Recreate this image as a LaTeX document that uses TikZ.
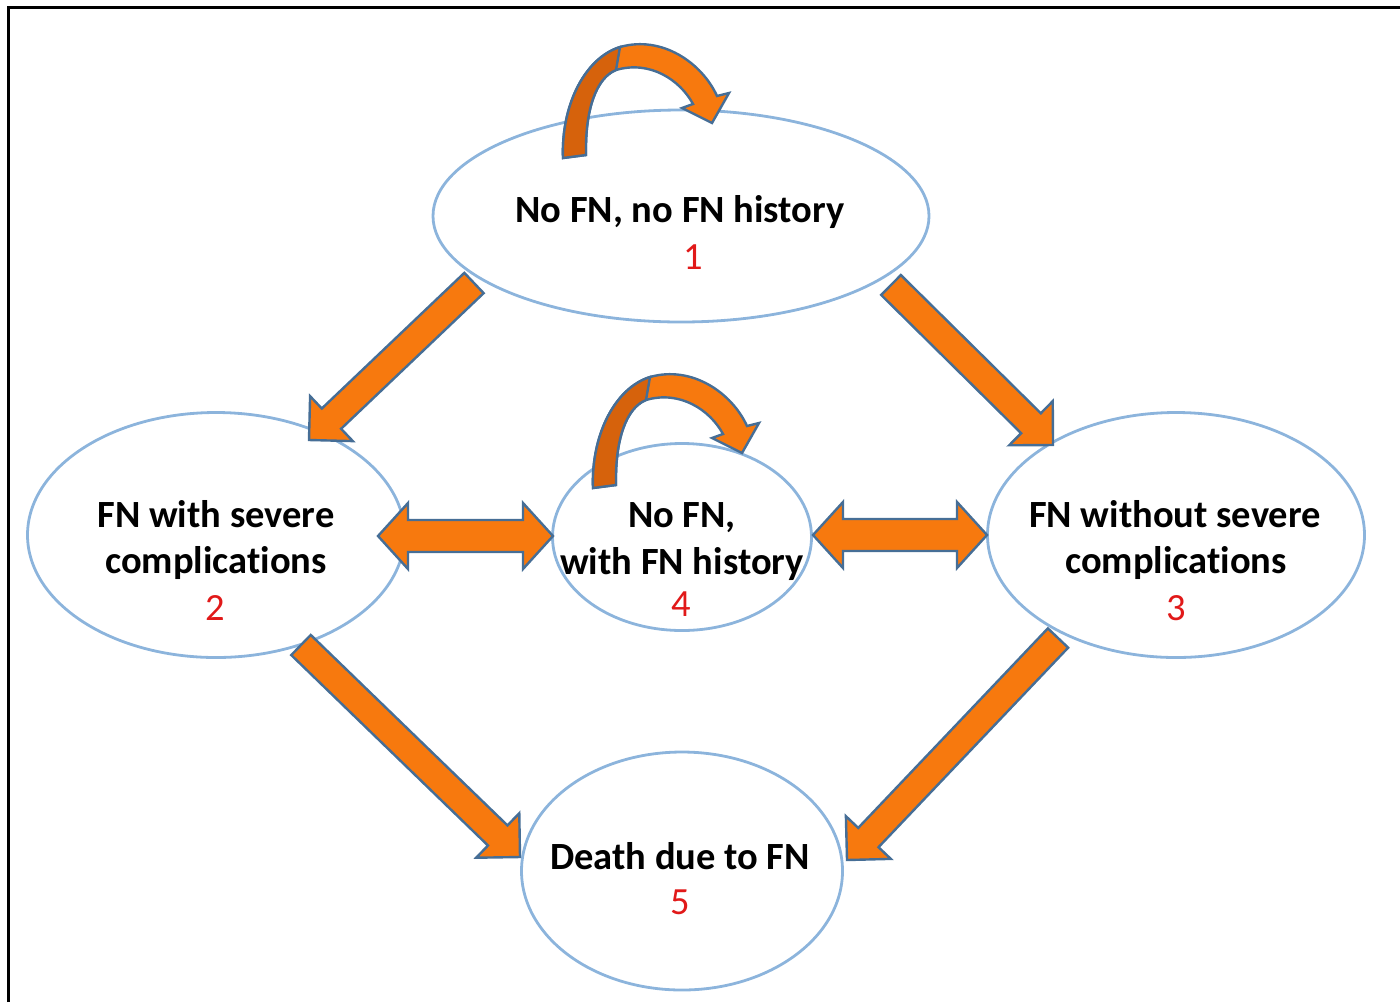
\documentclass[tikz,border=0pt]{standalone}
\usepackage{fontspec}
\setmainfont{Carlito}[Ligatures=CommonOff]
\usetikzlibrary{calc,shapes.geometric}
\definecolor{ellblue}{RGB}{140,180,220}
\definecolor{arrorange}{RGB}{247,121,14}
\definecolor{arrdark}{RGB}{214,98,12}
\definecolor{arredge}{RGB}{70,110,150}
\definecolor{numred}{RGB}{225,25,25}
\tikzset{
 state/.style={ellipse, draw=ellblue, line width=1.4pt, inner sep=0pt},
 lbl/.style={anchor=base, inner sep=0pt, font=\fontsize{19.25}{23}\selectfont\bfseries},
 num/.style={anchor=base, inner sep=0pt, text=numred, font=\fontsize{19.25}{23}\selectfont},
 barrow/.style={fill=arrorange, draw=arredge, line width=1.2pt, line join=miter},
 barrowdark/.style={fill=arrdark, draw=arredge, line width=1.2pt, line join=miter},
}
% #1 tail, #2 tip, #3 half shaft width, #4 half head width, #5 head length
\newcommand\myblockarrow[5]{%
 \coordinate (nk) at ($(#2)!#5!(#1)$);
 \draw[barrow] ($(#1)!#3!90:(#2)$) -- ($(nk)!#3!90:(#2)$) -- ($(nk)!#4!90:(#2)$) -- (#2)
   -- ($(nk)!#4!-90:(#2)$) -- ($(nk)!#3!-90:(#2)$) -- ($(#1)!#3!-90:(#2)$) -- cycle;
}
% #1 tip A, #2 tip B, #3 half shaft, #4 half head, #5 head length
\newcommand\mydoublearrow[5]{%
 \coordinate (nA) at ($(#1)!#5!(#2)$);
 \coordinate (nB) at ($(#2)!#5!(#1)$);
 \draw[barrow] (#1) -- ($(nA)!#4!90:(#2)$) -- ($(nA)!#3!90:(#2)$) -- ($(nB)!#3!90:(#2)$)
   -- ($(nB)!#4!90:(#2)$) -- (#2) -- ($(nB)!#4!-90:(#2)$) -- ($(nB)!#3!-90:(#2)$)
   -- ($(nA)!#3!-90:(#2)$) -- ($(nA)!#4!-90:(#2)$) -- cycle;
}
\newcommand\myloop[2]{%
 \begin{scope}[shift={(#1,#2)}]
 \draw[barrow] (563,158) .. controls (561,105) and (585,58) .. (620,47)
   .. controls (662,35) and (702,63) .. (717,96) -- (729,93) -- (712,123) -- (682,108) -- (693,104)
   .. controls (680,80) and (650,60) .. (616,70)
   .. controls (596,78) and (585,110) .. (586,155) -- cycle;
 \draw[barrowdark] (563,158) .. controls (561,105) and (585,58) .. (620,47) -- (616,70)
   .. controls (596,78) and (585,110) .. (586,155) -- cycle;
 \end{scope}
}
\begin{document}
\begin{tikzpicture}[x=0.5pt,y=-0.5pt]
\useasboundingbox (0,0) rectangle (1400,1002);
\draw[line width=1.5pt] (8.5,1002) -- (8.5,7.5) -- (1400,7.5);

\node[state, minimum width=248pt, minimum height=106pt] (e1) at (681,216) {};
\node[state, minimum width=188.5pt, minimum height=122.5pt] (e2) at (216,535) {};
\node[state, minimum width=129.5pt, minimum height=93.5pt] (e4) at (682,537) {};
\node[state, minimum width=188.5pt, minimum height=122.5pt] (e3) at (1176,535) {};
\node[state, minimum width=160.5pt, minimum height=119pt] (e5) at (682,871) {};

\node[lbl] (t1) at (680,222) {No FN, no FN history};
\node[num] (n1) at (693,269) {1};
\node[lbl] (t2a) at (216,527) {FN with severe};
\node[lbl] (t2b) at (216,573) {complications};
\node[num] (n2) at (215,620) {2};
\node[lbl] (t4a) at (682,527) {No FN,};
\node[lbl] (t4b) at (682,574) {with FN history};
\node[num] (n4) at (681,616) {4};
\node[lbl] (t3a) at (1175,527) {FN without severe};
\node[lbl] (t3b) at (1176,573) {complications};
\node[num] (n3) at (1176,620) {3};
\node[lbl] (t5) at (680,869) {Death due to FN};
\node[num] (n5) at (680,914) {5};

\coordinate (a12s) at (474,283); \coordinate (a12e) at (309,440);
\coordinate (a13s) at (891,285); \coordinate (a13e) at (1053,445);
\coordinate (a25s) at (301,645); \coordinate (a25e) at (520,857);
\coordinate (a35s) at (1058,638); \coordinate (a35e) at (847,860);
\coordinate (d24a) at (378,536); \coordinate (d24b) at (553,536);
\coordinate (d43a) at (813,535); \coordinate (d43b) at (987,535);

\myblockarrow{a12s}{a12e}{7pt}{15.5pt}{15.5pt}
\myblockarrow{a13s}{a13e}{7pt}{15.5pt}{15.5pt}
\myblockarrow{a25s}{a25e}{7pt}{15.5pt}{15.5pt}
\myblockarrow{a35s}{a35e}{7pt}{15.5pt}{15.5pt}
\mydoublearrow{d24a}{d24b}{8pt}{16.5pt}{15pt}
\mydoublearrow{d43a}{d43b}{8pt}{16.5pt}{15pt}

\myloop{0}{0}
\myloop{30}{330}
\end{tikzpicture}
\end{document}
